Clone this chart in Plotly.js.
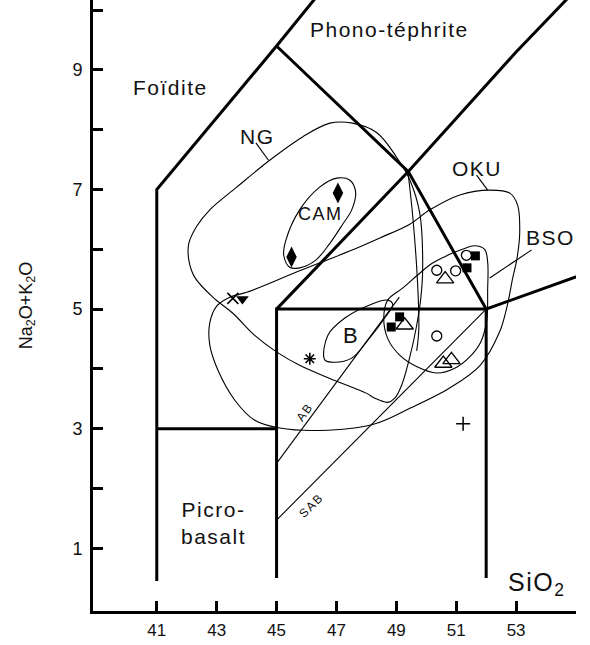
<!DOCTYPE html>
<html><head><meta charset="utf-8">
<script src="https://cdn.plot.ly/plotly-3.0.1.min.js"></script>
<style>html,body{margin:0;padding:0;background:#fff}#chart{width:590px;height:645px}
.annotation-text{letter-spacing:1.5px}</style>
</head><body><div id="chart"></div>
<script>
// ---- tick labels ----
const xTickVals = [41, 43, 45, 47, 49, 51, 53];
const xTickText = ['41', '43', '45', '47', '49', '51', '53'];
const xEndTick = [54.98];
const yTickVals = [1, 3, 5, 7, 9];
const yTickText = ['1', '3', '5', '7', '9'];
const yMinorTicks = [2, 4, 6, 8, 10];

// ---- TAS field boundaries (SiO2, Na2O+K2O) ----
const tasFoiditeX = [41, 41, 45, 48.4];      const tasFoiditeY = [0.45, 7, 9.4, 11.5];
const tasPicroTopX = [41, 45];               const tasPicroTopY = [3, 3];
const tasBasaltLX = [45, 45, 52];            const tasBasaltLY = [0.5, 5, 5];
const tasBasaltRX = [52, 52, 57];            const tasBasaltRY = [0.5, 5, 5.9];
const tasTephriteX = [45, 49.4, 53, 57.6];   const tasTephriteY = [5, 7.3, 9.3, 11.7];
const tasPhonoX = [45, 49.4, 52];            const tasPhonoY = [9.4, 7.3, 5];

// ---- thin reference lines ----
const abX = [45, 49.1];   const abY = [2.42, 5.2];
const sabX = [45, 52];    const sabY = [1.47, 5.0];

// ---- fields (closed outlines) ----
const ngX = [48.95, 48.71, 48.28, 48.01, 46.78, 45.77, 45.01, 44.27, 43.54, 42.87, 42.27, 42.07, 42.07, 42.34, 42.77, 43.67, 44.77, 45.87, 46.78, 47.54, 48.35, 49.01, 49.45, 49.78, 49.88, 49.81, 49.65, 49.45, 49.18, 48.95];
const ngY = [3.51, 3.44, 3.51, 3.59, 3.84, 4.06, 4.28, 4.56, 4.93, 5.20, 5.53, 5.82, 6.10, 6.39, 6.66, 7.04, 7.49, 7.88, 8.11, 8.11, 7.95, 7.54, 7.16, 6.61, 5.70, 5.15, 4.65, 4.20, 3.73, 3.51];
const ngInnerX = [49.38, 49.55, 49.71, 49.75, 49.68];
const ngInnerY = [7.33, 6.54, 5.43, 4.65, 4.30];

const camX = [47.44, 47.64, 47.51, 47.21, 46.78, 46.31, 45.77, 45.44, 45.24, 45.31, 45.77, 46.44, 47.01, 47.44];
const camY = [7.16, 6.96, 6.66, 6.42, 6.10, 5.82, 5.69, 5.70, 5.90, 6.15, 6.66, 7.04, 7.19, 7.16];

const okuX = [44.00, 45.77, 47.44, 48.45, 49.45, 50.12, 51.12, 52.12, 52.79, 53.05, 53.12, 53.02, 52.89, 52.70, 52.45, 51.80, 50.78, 49.45, 48.21, 46.44, 45.11, 44.27, 43.60, 43.04, 42.77, 42.77, 43.00, 43.44, 44.00];
const okuY = [5.28, 5.64, 5.97, 6.19, 6.42, 6.66, 6.91, 6.99, 6.94, 6.74, 6.27, 5.82, 5.53, 5.05, 4.62, 4.06, 3.68, 3.34, 3.07, 2.97, 3.01, 3.14, 3.48, 3.98, 4.40, 4.77, 5.05, 5.20, 5.28];

const bsoX = [48.58, 48.71, 49.21, 49.71, 50.21, 50.71, 51.21, 51.61, 51.95, 52.05, 52.05, 52.02, 51.82, 51.45, 50.95, 50.35, 49.71, 49.11, 48.71, 48.58];
const bsoY = [4.85, 5.15, 5.35, 5.57, 5.77, 5.90, 6.00, 6.06, 6.00, 5.79, 5.32, 4.82, 4.45, 4.20, 4.01, 3.93, 4.03, 4.23, 4.51, 4.85];

const bX = [46.61, 46.71, 47.28, 48.11, 48.71, 48.88, 48.61, 48.05, 47.51, 46.94, 46.61];
const bY = [4.15, 4.56, 4.85, 5.07, 5.15, 5.08, 4.85, 4.48, 4.18, 4.11, 4.15];

// ---- samples ----
const camSampleX = [47.05, 45.50];           const camSampleY = [6.94, 5.87];
const crossXX = [43.54];                     const crossXY = [5.18];
const triDownX = [43.86];                    const triDownY = [5.17];
const starX = [46.11];                       const starY = [4.17];
const plusX = [51.23];                       const plusY = [3.08];
const circleX = [50.35, 50.98, 51.34, 50.35]; const circleY = [5.65, 5.64, 5.90, 4.55];
const triUpX = [50.63, 49.28, 50.57, 50.84]; const triUpY = [5.50, 4.73, 4.09, 4.15];
const squareX = [51.64, 51.36, 48.83, 49.11]; const squareY = [5.89, 5.69, 4.70, 4.87];

// ---- leader lines ----
const ngLeadX = [44.31, 44.73];   const ngLeadY = [7.78, 7.49];
const okuLeadX = [51.68, 52.05];  const okuLeadY = [7.24, 6.99];
const bsoLeadX = [53.52, 52.12];  const bsoLeadY = [5.99, 5.52];

const FONT = 'Liberation Sans, Arial, Helvetica, sans-serif';
const INK = '#111';
const thick = {color: '#000', width: 3};
const thin = {color: '#000', width: 1.1};

function ln(x, y, line, shape) {
  return {x: x, y: y, type: 'scatter', mode: 'lines', line: Object.assign({}, line, shape ? {shape: shape, smoothing: 1} : {}),
          hoverinfo: 'skip', showlegend: false};
}
function mk(x, y, symbol, size, lw) {
  return {x: x, y: y, type: 'scatter', mode: 'markers', hoverinfo: 'skip', showlegend: false, cliponaxis: false,
          marker: {symbol: symbol, size: size, color: '#000', line: {color: '#000', width: lw}}};
}

const traces = [
  ln(tasFoiditeX, tasFoiditeY, thick), ln(tasPicroTopX, tasPicroTopY, thick),
  ln(tasBasaltLX, tasBasaltLY, thick), ln(tasBasaltRX, tasBasaltRY, thick),
  ln(tasTephriteX, tasTephriteY, thick), ln(tasPhonoX, tasPhonoY, thick),
  ln(abX, abY, thin), ln(sabX, sabY, thin),
  ln(ngX, ngY, thin, 'spline'), ln(ngInnerX, ngInnerY, thin, 'spline'),
  ln(camX, camY, thin, 'spline'), ln(okuX, okuY, thin, 'spline'),
  ln(bsoX, bsoY, thin, 'spline'), ln(bX, bY, thin, 'spline'),
  ln(ngLeadX, ngLeadY, thin), ln(okuLeadX, okuLeadY, thin), ln(bsoLeadX, bsoLeadY, thin),
  mk(camSampleX, camSampleY, 'diamond-tall', 15, 0),
  mk(crossXX, crossXY, 'x-thin-open', 11, 1.6),
  mk(triDownX, triDownY, 'triangle-down', 11, 0),
  mk(starX, starY, 'asterisk-open', 10, 1.6),
  mk(plusX, plusY, 'cross-thin-open', 10, 1.5),
  mk(circleX, circleY, 'circle-open', 10, 1.3),
  mk(triUpX, triUpY, 'triangle-up-open', 15, 1.3),
  mk(squareX, squareY, 'square', 9, 0)
];

function lab(text, x, y, size, angle) {
  return {text: text, x: x, y: y, xref: 'x', yref: 'y', showarrow: false, textangle: angle || 0,
          font: {family: FONT, size: size, color: INK}};
}

const layout = {
  width: 590, height: 645,
  margin: {l: 93, r: 14, t: 0, b: 34},
  paper_bgcolor: '#fff', plot_bgcolor: '#fff',
  font: {family: FONT, color: INK},
  xaxis: {range: [38.87, 55.0], showgrid: false, zeroline: false, showline: true, linecolor: '#000', linewidth: 3,
          ticks: 'inside', ticklen: 10, tickwidth: 3, tickcolor: '#000',
          tickmode: 'array', tickvals: xTickVals, ticktext: xTickText,
          minor: {tickmode: 'array', tickvals: xEndTick, ticks: 'inside', ticklen: 10, tickwidth: 3, tickcolor: '#000'},
          tickfont: {size: 17, family: FONT, color: INK}, ticklabelstandoff: 2},
  yaxis: {range: [-0.05, 10.17], showgrid: false, zeroline: false, showline: true, linecolor: '#000', linewidth: 3,
          ticks: 'inside', ticklen: 10, tickwidth: 3, tickcolor: '#000',
          tickmode: 'array', tickvals: yTickVals, ticktext: yTickText,
          minor: {tickmode: 'array', tickvals: yMinorTicks, ticks: 'inside', ticklen: 10, tickwidth: 3, tickcolor: '#000'},
          tickfont: {size: 18, family: FONT, color: INK}, ticklabelstandoff: 4,
          title: {text: 'Na<sub>2</sub>O+K<sub>2</sub>O', font: {size: 18, family: FONT, color: INK}, standoff: 36}},
  annotations: [
    lab('Foïdite', 41.47, 8.71, 21),
    lab('Phono-téphrite', 48.78, 9.68, 21),
    lab('NG', 44.37, 7.88, 21),
    lab('CAM', 46.48, 6.59, 18),
    lab('OKU', 51.68, 7.36, 21),
    lab('BSO', 54.16, 6.19, 21),
    lab('B', 47.48, 4.56, 22),
    lab('Picro-<br>basalt', 42.88, 1.42, 21),
    lab('AB', 45.94, 3.28, 12, -54),
    lab('SAB', 46.18, 1.72, 12, -45),
    lab('SiO<sub>2</sub>', 53.69, 0.41, 25)
  ]
};

Plotly.newPlot('chart', traces, layout, {staticPlot: true, displayModeBar: false});
</script>
</body></html>
